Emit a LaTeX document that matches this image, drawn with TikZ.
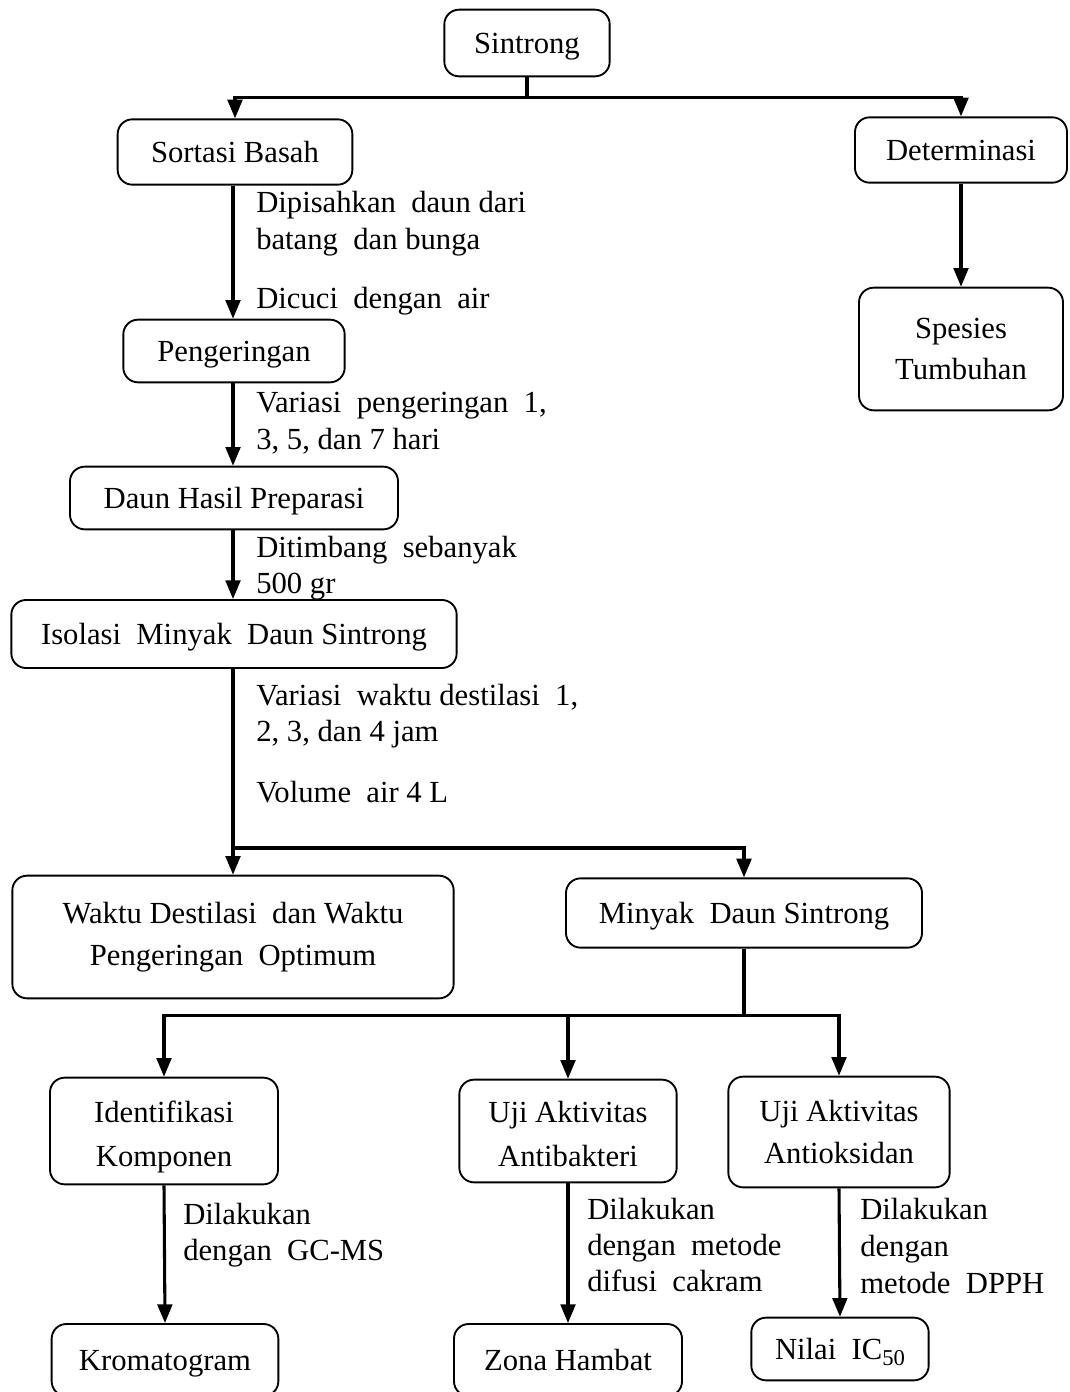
\documentclass[tikz,border=0pt]{standalone}
\usepackage{fontspec}
\setmainfont{Liberation Serif}
\usetikzlibrary{arrows.meta}

\tikzset{
  kotak/.style={draw, line width=1.4pt, rounded corners=11pt, align=center,
    inner sep=0pt, font=\fontsize{23}{31}\selectfont},
  satu/.style={text height=21pt, text depth=5pt},
  ket/.style={anchor=west, align=left, inner sep=0pt,
    font=\fontsize{23}{27.5}\selectfont},
  garis/.style={line width=2.3pt},
  panah/.style={line width=2.3pt, -{Triangle[length=14pt,width=11pt]}},
}

\begin{document}
\begin{tikzpicture}[x=0.75pt,y=0.75pt,yscale=-1,xscale=1]
\useasboundingbox (0,0) rectangle (1070,1392);

%Boxes
\node[kotak, satu, minimum width=124pt, minimum height=50pt] (sintrong) at (527,43) {Sintrong};
\node[kotak, satu, minimum width=176pt, minimum height=49pt] (sortasi) at (235,152) {Sortasi Basah};
\node[kotak, satu, minimum width=159pt, minimum height=49pt] (determinasi) at (961,150) {Determinasi};
\node[kotak, minimum width=153pt, minimum height=92pt] (spesies) at (961,349) {Spesies\\Tumbuhan};
\node[kotak, satu, minimum width=166pt, minimum height=47pt] (pengeringan) at (234,351) {Pengeringan};
\node[kotak, satu, minimum width=246pt, minimum height=47pt] (daun) at (234,498) {Daun Hasil Preparasi};
\node[kotak, satu, minimum width=334pt, minimum height=51pt] (isolasi) at (234,634) {Isolasi~ Minyak~ Daun Sintrong};
\node[kotak, minimum width=331pt, minimum height=92pt] (waktu) at (233,937) {Waktu Destilasi~ dan Waktu\\Pengeringan~ Optimum};
\node[kotak, satu, minimum width=267pt, minimum height=52pt] (minyak) at (744,913) {Minyak~ Daun Sintrong};
\node[kotak, minimum width=171pt, minimum height=80pt, font=\fontsize{23}{33}\selectfont] (identifikasi) at (164,1131) {\rule{0pt}{25pt}Identifikasi\\Komponen};
\node[kotak, minimum width=163pt, minimum height=77pt, font=\fontsize{23}{33}\selectfont] (antibakteri) at (568,1131) {\rule{0pt}{21pt}Uji Aktivitas\\Antibakteri};
\node[kotak, minimum width=166pt, minimum height=83pt, font=\fontsize{23}{32}\selectfont] (antioksidan) at (839,1132) {Uji Aktivitas\\Antioksidan};
\node[kotak, satu, minimum width=170pt, minimum height=54pt] (kromatogram) at (165,1360) {Kromatogram};
\node[kotak, satu, minimum width=171pt, minimum height=54pt] (zona) at (568,1360) {Zona Hambat};
\node[kotak, satu, minimum width=133pt, minimum height=47pt] (nilai) at (840,1349) {Nilai~ IC\raisebox{-0.4ex}{\fontsize{17}{17}\selectfont 50}};

%Connectors
\draw[garis] (sintrong.south) -- ++(0,20) coordinate (c1);
\draw[panah] (c1) -| (sortasi.north);
\draw[panah] (c1) -| (determinasi.north);
\draw[panah] (determinasi.south) -- (spesies.north);
\draw[panah] (sortasi.south -| 233,0) -- (pengeringan.north -| 233,0);
\draw[panah] (pengeringan.south -| 233,0) -- (daun.north -| 233,0);
\draw[panah] (daun.south -| 233,0) -- (isolasi.north -| 233,0);
\draw[panah] (isolasi.south -| 233,0) -- (waktu.north -| 233,0);
\coordinate (c2) at (233,848);
\draw[panah] (c2) -| (minyak.north);
\draw[garis] (minyak.south) -- ++(0,67) coordinate (c3);
\draw[panah] (c3) -| (identifikasi.north);
\draw[panah] (c3) -| (antibakteri.north);
\draw[panah] (c3) -| (antioksidan.north);
\draw[panah] (identifikasi.south) -- (kromatogram.north);
\draw[panah] (antibakteri.south) -- (zona.north);
\draw[panah] (antioksidan.south) -- (nilai.north);

% Text Node
\node[ket] (k1) at (256,224) {Dipisahkan~ daun dari\\batang~ dan bunga};
% Text Node
\node[ket] (k2) at (256,301) {Dicuci~ dengan~ air};
% Text Node
\node[ket] (k3) at (256,423) {Variasi~ pengeringan~ 1,\\3, 5, dan 7 hari};
% Text Node
\node[ket] (k4) at (256,568) {Ditimbang~ sebanyak\\500 gr};
% Text Node
\node[ket] (k5) at (256,716) {Variasi~ waktu destilasi~ 1,\\2, 3, dan 4 jam};
% Text Node
\node[ket] (k6) at (256,792) {Volume~ air 4 L};
% Text Node
\node[ket] (k7) at (183,1235) {Dilakukan\\dengan~ GC-MS};
% Text Node
\node[ket, font=\fontsize{23}{27}\selectfont] (k8) at (587,1245) {Dilakukan\\dengan~ metode\\difusi~ cakram};
% Text Node
\node[ket, font=\fontsize{23}{28}\selectfont] (k9) at (860,1246) {Dilakukan\\dengan\\metode~ DPPH};

\end{tikzpicture}
\end{document}
